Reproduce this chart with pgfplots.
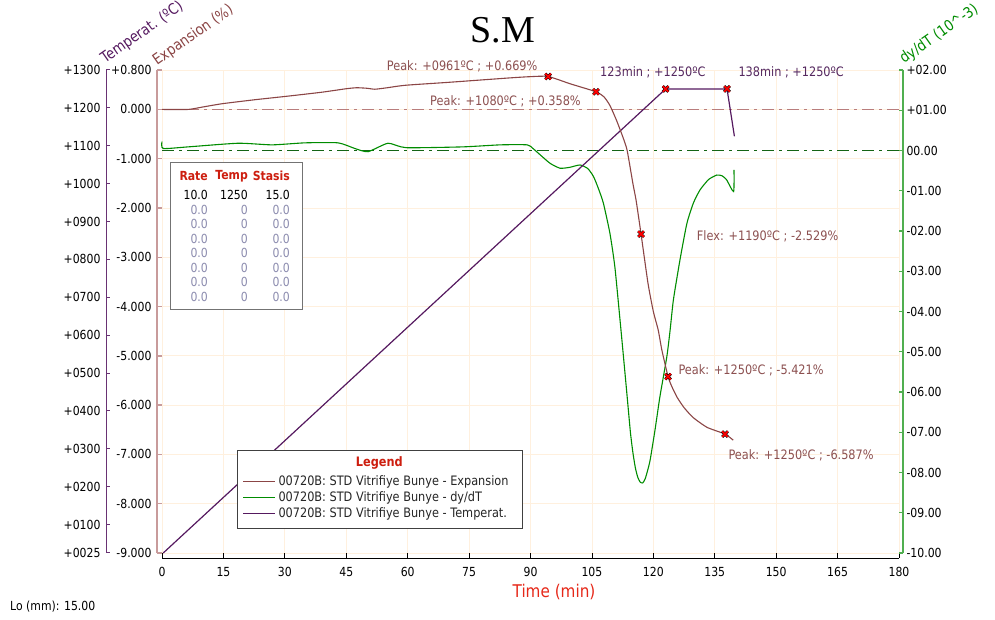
\documentclass[border=0pt]{standalone}
\usepackage{pgfplots}
\pgfplotsset{compat=1.18}
\usepackage{fontspec}
\setmainfont{DejaVu Sans}[FakeStretch=0.87]
\newfontfamily\titlefont{Liberation Serif}
\definecolor{expcol}{RGB}{139,69,69}
\definecolor{explight}{RGB}{200,155,155}
\definecolor{dycol}{RGB}{0,140,0}
\definecolor{dyaxis}{RGB}{80,175,80}
\definecolor{tempcol}{RGB}{85,25,95}
\definecolor{tempaxis}{RGB}{105,50,115}
\definecolor{annobrown}{RGB}{140,80,80}
\definecolor{annopurple}{RGB}{85,40,95}
\definecolor{titlered}{RGB}{230,40,25}
\definecolor{gridcol}{RGB}{255,240,222}
\definecolor{zerogray}{RGB}{140,140,175}
\definecolor{legred}{RGB}{205,30,15}
\definecolor{dashbrown}{RGB}{185,125,125}
\definecolor{dashgreen}{RGB}{20,100,20}
\newcommand\tlf{\fontsize{12.5}{14}\selectfont}
\newcommand\anf{\fontsize{13}{15}\selectfont}
\newcommand\tbf{\fontsize{12.5}{14}\selectfont}
\pgfplotsset{geo/.style={scale only axis, anchor=south west, clip=false}}
\begin{document}
\begin{tikzpicture}[x=1pt,y=1pt]
\path[use as bounding box] (0,0) rectangle (995,620);
% grid + expansion zero line
\begin{axis}[geo, at={(162pt,67pt)}, width=737pt, height=483pt,
  xmin=0, xmax=180, ymin=-9, ymax=0.8,
  xtick={0,15,...,180}, ytick={-9,-8,-7,-6,-5,-4,-3,-2,-1,0,0.8},
  xticklabels={}, yticklabels={},
  grid=major, major grid style={gridcol, line width=0.8pt},
  axis line style={draw=none}, tick style={draw=none}]
\addplot[dashbrown, line width=1.5pt, dash pattern=on 12pt off 5pt on 3pt off 5pt] coordinates {(0,0) (180,0)};
\end{axis}
% x axis
\begin{axis}[geo, at={(162pt,62pt)}, width=737pt, height=488pt,
  xmin=0, xmax=180, ymin=0, ymax=1,
  axis x line*=bottom, axis y line=none, ytick=\empty,
  x axis line style={-, black, line width=0.8pt},
  xtick={0,15,...,180}, tick align=inside, major tick length=5pt,
  xtick style={black, line width=0.8pt},
  /pgf/number format/assume math mode=true,
  xticklabel style={font=\tlf, yshift=-6pt}]
\end{axis}
% dy/dT axis
\begin{axis}[geo, at={(162pt,67pt)}, width=741pt, height=483pt,
  xmin=0, xmax=180.977, ymin=-10, ymax=2,
  axis y line*=right, axis x line=none, xtick=\empty,
  y axis line style={-, dyaxis, line width=1.2pt},
  ytick={-10,-9,-8,-7,-6,-5,-4,-3,-2,-1,0,1,2},
  yticklabels={-10.00,-09.00,-08.00,-07.00,-06.00,-05.00,-04.00,-03.00,-02.00,-01.00,00.00,+01.00,+02.00},
  tick align=inside, major tick length=4pt,
  ytick style={dyaxis, line width=1.2pt},
  yticklabel style={font=\tlf}]
\addplot[dashgreen, line width=1.1pt, dash pattern=on 12pt off 5pt on 3pt off 5pt] coordinates {(0,0) (180,0)};
\addplot[dycol, line width=1.1pt, smooth, tension=0.35] coordinates {
(0,0.22) (0.3,0.05) (6.4,0.09) (18.6,0.18) (26.9,0.14) (34.9,0.19) (43,0.19) (47.1,0.05) (50.3,-0.03) (55.2,0.18) (59.6,0.07) (73.5,0.09) (82.6,0.14) (89.2,0.14) (90.6,0.05) (92.5,-0.12) (94.8,-0.32) (97.2,-0.44) (99.5,-0.42) (102.1,-0.36) (104,-0.45) (105.4,-0.65) (106.6,-0.95) (107.8,-1.31) (109.4,-2.06) (110.6,-2.89) (111.9,-4.25) (112.5,-4.9) (113.5,-6.0) (114.4,-7.0) (115.0,-7.5) (115.6,-7.88) (116.2,-8.12) (116.8,-8.24) (117.4,-8.26) (118.0,-8.16) (118.6,-7.95) (119.2,-7.7) (120.4,-6.95) (121.6,-6.12) (123.3,-5.12) (124.1,-4.46) (124.9,-3.71) (126.5,-2.72) (128.2,-1.81) (129.8,-1.30) (131.4,-0.98) (133.5,-0.72) (135.5,-0.61) (136.8,-0.63) (137.9,-0.73) (139.6,-1.02) (139.7,-0.48)};
\end{axis}
% temperature axis
\begin{axis}[geo, at={(106pt,67pt)}, width=793pt, height=483pt,
  xmin=-13.6771, xmax=180, ymin=25, ymax=1300,
  axis y line*=left, axis x line=none, xtick=\empty,
  y axis line style={-, tempaxis, line width=1pt},
  ytick={25,100,200,300,400,500,600,700,800,900,1000,1100,1200,1300},
  yticklabels={+0025,+0100,+0200,+0300,+0400,+0500,+0600,+0700,+0800,+0900,+1000,+1100,+1200,+1300},
  tick align=inside, major tick length=4pt,
  ytick style={tempaxis, line width=1pt},
  yticklabel style={font=\tlf, xshift=-2pt}]
\addplot[tempcol, line width=1.2pt] coordinates {(0.3,25) (123,1250) (138,1250) (139.8,1125)};
\addplot[only marks, mark=x, mark size=4pt, mark options={black, line width=2.8pt}] coordinates {(123,1250) (138,1250)};
\addplot[only marks, mark=x, mark size=4pt, mark options={red, line width=1.8pt}] coordinates {(123,1250) (138,1250)};
\end{axis}
% expansion axis
\begin{axis}[geo, at={(157pt,67pt)}, width=742pt, height=483pt,
  xmin=-1.2212, xmax=180, ymin=-9, ymax=0.8,
  axis y line*=left, axis x line=none, xtick=\empty,
  y axis line style={-, explight, line width=1.3pt},
  ytick={-9,-8,-7,-6,-5,-4,-3,-2,-1,0,0.8},
  yticklabels={-9.000,-8.000,-7.000,-6.000,-5.000,-4.000,-3.000,-2.000,-1.000,0.000,+0.800},
  tick align=inside, major tick length=5pt,
  ytick style={explight, line width=1.3pt},
  yticklabel style={font=\tlf, xshift=-2pt}]
\addplot[expcol, line width=1.1pt, smooth, tension=0.35] coordinates {
(0,0) (6.4,0.0) (10,0.05) (14.7,0.116) (22.7,0.197) (30.8,0.27) (39.1,0.35) (45,0.42) (47.5,0.44) (50,0.43) (52,0.41) (55,0.44) (59.4,0.49) (70,0.55) (85,0.64) (90,0.665) (94.3,0.669) (99.7,0.52) (106.0,0.358) (108,0.25) (109.4,0.08) (111,-0.22) (112.6,-0.57) (113.6,-0.83) (115.0,-1.50) (115.8,-1.85) (117.0,-2.529) (118.7,-3.53) (120.0,-4.10) (121.2,-4.48) (122.1,-4.89) (123.6,-5.421) (124.5,-5.62) (125.8,-5.84) (127.5,-6.05) (129.7,-6.25) (133.1,-6.45) (137.5,-6.587) (139.5,-6.71)};
\addplot[only marks, mark=x, mark size=4pt, mark options={black, line width=2.8pt}] coordinates {(94.3,0.669) (106.0,0.358) (117.0,-2.529) (123.6,-5.421) (137.5,-6.587)};
\addplot[only marks, mark=x, mark size=4pt, mark options={red, line width=1.8pt}] coordinates {(94.3,0.669) (106.0,0.358) (117.0,-2.529) (123.6,-5.421) (137.5,-6.587)};
\end{axis}
% title and labels
\node[font=\titlefont\fontsize{38}{40}\selectfont] at (503,590) {S.M};
\node[font=\fontsize{17.5}{19}\selectfont, text=titlered] at (554,28) {Time (min)};
\node[anchor=west, inner sep=0, font=\tlf] at (10,13) {Lo (mm): 15.00};
\node[rotate=35, anchor=base west, inner sep=0, text=tempcol, font=\fontsize{15}{17}\selectfont] at (105,556) {Temperat. (ºC)};
\node[rotate=35, anchor=base west, inner sep=0, text=expcol, font=\fontsize{15}{17}\selectfont] at (157,554) {Expansion (\%)};
\node[rotate=35, anchor=base west, inner sep=0, text=dycol, font=\fontsize{15}{17}\selectfont] at (904,556) {dy/dT (10\textasciicircum-3)};
% annotations
\node[anchor=west, inner sep=0, text=annobrown, font=\anf] at (386.7,553.3) {Peak: +0961ºC ; +0.669\%};
\node[anchor=west, inner sep=0, text=annobrown, font=\anf] at (430,518.3) {Peak: +1080ºC ; +0.358\%};
\node[anchor=west, inner sep=0, text=annopurple, font=\anf] at (600,547.3) {123min ; +1250ºC};
\node[anchor=west, inner sep=0, text=annopurple, font=\anf] at (738.3,547.3) {138min ; +1250ºC};
\node[anchor=west, inner sep=0, text=annobrown, font=\anf] at (696.7,384) {Flex: +1190ºC ; -2.529\%};
\node[anchor=west, inner sep=0, text=annobrown, font=\anf] at (678.3,249.3) {Peak: +1250ºC ; -5.421\%};
\node[anchor=west, inner sep=0, text=annobrown, font=\anf] at (728.3,165) {Peak: +1250ºC ; -6.587\%};
% rate table
\draw[black!55, fill=white, line width=0.8pt] (170,311) rectangle (302,458);
\begin{scope}[every node/.style={inner sep=0, font=\tbf}]
\node[anchor=east, text=legred, font=\tbf\bfseries] at (208,444) {Rate};
\node[anchor=east, text=legred, font=\tbf\bfseries] at (248,444) {Temp};
\node[anchor=east, text=legred, font=\tbf\bfseries] at (290,444) {Stasis};
\node[anchor=east] at (208,425) {10.0};
\node[anchor=east] at (248,425) {1250};
\node[anchor=east] at (290,425) {15.0};
\foreach \k in {1,...,7} {
  \node[anchor=east, text=zerogray] at (208,425-14.57*\k) {0.0};
  \node[anchor=east, text=zerogray] at (248,425-14.57*\k) {0};
  \node[anchor=east, text=zerogray] at (290,425-14.57*\k) {0.0};
}
\end{scope}
% legend
\draw[black!75, fill=white, line width=0.8pt] (237,92) rectangle (522,170);
\node[text=legred, font=\anf\bfseries] at (379.3,156.7) {Legend};
\draw[expcol, line width=1.4pt] (243,138.5) -- (275,138.5);
\draw[dycol, line width=1.4pt] (243,122.5) -- (275,122.5);
\draw[tempcol, line width=1.4pt] (243,106.5) -- (275,106.5);
\node[anchor=west, inner sep=0, font=\anf, text=black!85] at (278.3,138.5) {00720B: STD Vitrifiye Bunye - Expansion};
\node[anchor=west, inner sep=0, font=\anf, text=black!85] at (278.3,122.5) {00720B: STD Vitrifiye Bunye - dy/dT};
\node[anchor=west, inner sep=0, font=\anf, text=black!85] at (278.3,106.5) {00720B: STD Vitrifiye Bunye - Temperat.};
\end{tikzpicture}
\end{document}
